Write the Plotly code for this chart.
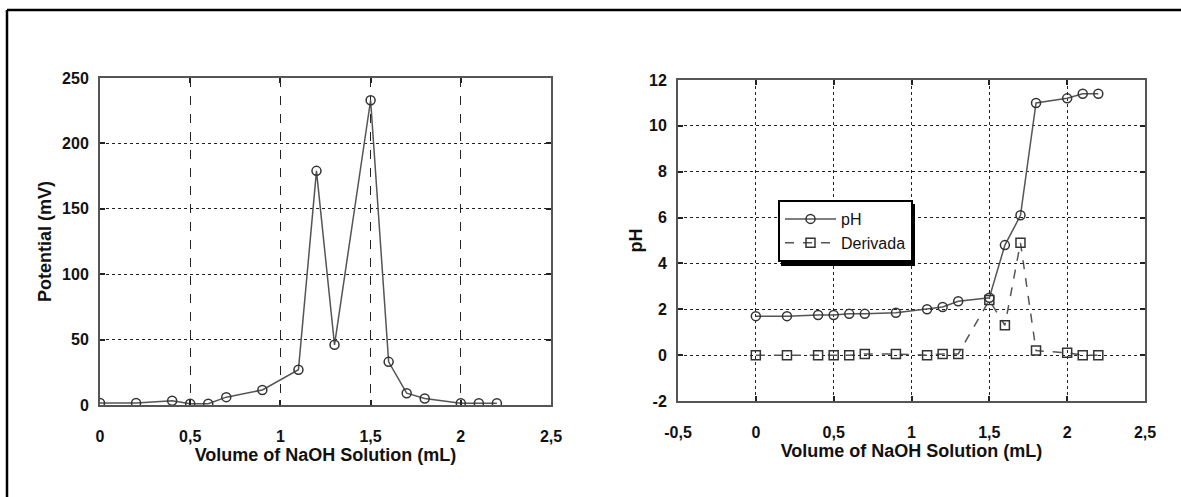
import plotly.graph_objects as go

W, H = 1181, 497

# ---- data ----
vol = [0, 0.2, 0.4, 0.5, 0.6, 0.7, 0.9, 1.1, 1.2, 1.3, 1.5, 1.6, 1.7, 1.8, 2.0, 2.1, 2.2]
potential = [1.5, 1.5, 3.3, 1, 1, 6, 11.5, 27, 179, 46, 233, 33, 9, 5, 1.3, 1.3, 1.3]

ph_vol = [0, 0.2, 0.4, 0.5, 0.6, 0.7, 0.9, 1.1, 1.2, 1.3, 1.5, 1.6, 1.7, 1.8, 2.0, 2.1, 2.2]
ph = [1.7, 1.7, 1.75, 1.75, 1.8, 1.8, 1.85, 2.0, 2.1, 2.35, 2.5, 4.8, 6.1, 11.0, 11.2, 11.4, 11.4]

der_vol = [0, 0.2, 0.4, 0.5, 0.6, 0.7, 0.9, 1.1, 1.2, 1.3, 1.5, 1.6, 1.7, 1.8, 2.0, 2.1, 2.2]
deriv = [0, 0, 0, 0, 0, 0.05, 0.05, 0, 0.05, 0.05, 2.4, 1.3, 4.9, 0.2, 0.1, 0, 0]

# tick labels (hyphen minus, comma decimal as in the original)
right_x_tickvals = [-0.5, 0, 0.5, 1, 1.5, 2, 2.5]
right_x_ticktext = ["-0,5", "0", "0,5", "1", "1,5", "2", "2,5"]
right_y_tickvals = [-2, 0, 2, 4, 6, 8, 10, 12]
right_y_ticktext = ["-2", "0", "2", "4", "6", "8", "10", "12"]

x_title = "Volume of NaOH Solution (mL)"
left_y_title = "Potential (mV)"
right_y_title = "pH"

FONT = "Liberation Sans, Arial, sans-serif"
LINE = "#555555"
MARK = "#333333"


def px_x(p):
    return p / W


def px_y(p):
    return (H - p) / H


fig = go.Figure()

fig.add_trace(go.Scatter(
    x=vol, y=potential, mode="lines+markers", showlegend=False,
    line=dict(color=LINE, width=1.5),
    marker=dict(symbol="circle-open", size=9, color=MARK, line=dict(width=1.5)),
    xaxis="x", yaxis="y"))

fig.add_trace(go.Scatter(
    x=ph_vol, y=ph, mode="lines+markers", name="pH",
    line=dict(color=LINE, width=1.5),
    marker=dict(symbol="circle-open", size=9, color=MARK, line=dict(width=1.5)),
    xaxis="x2", yaxis="y2"))

fig.add_trace(go.Scatter(
    x=der_vol, y=deriv, mode="lines+markers", name="Derivada",
    line=dict(color=LINE, width=1.5, dash="dash"),
    marker=dict(symbol="square-open", size=9, color=MARK, line=dict(width=1.5)),
    xaxis="x2", yaxis="y2"))

axis_common = dict(
    automargin=False,
    showline=True, linecolor="#555555", linewidth=2, mirror="ticks",
    ticks="inside", ticklen=5, tickwidth=2, tickcolor="#222222",
    showgrid=True, gridcolor="#222222", gridwidth=1, griddash="dot",
    zeroline=False,
    tickfont=dict(family=FONT, size=16, color="#111111", weight="bold"),
)

tfont = dict(family=FONT, size=18, color="#111111", weight="bold")

fig.update_layout(
    width=W, height=H,
    margin=dict(l=0, r=0, t=0, b=0, pad=0, autoexpand=False),
    paper_bgcolor="white", plot_bgcolor="white",
    separators=", ",
    xaxis=dict(axis_common, domain=[px_x(100), px_x(551)], range=[0, 2.5], dtick=0.5,
               tick0=0, anchor="y", ticklabelstandoff=16, griddash="dash",
               title=dict(text=x_title, font=tfont, standoff=4)),
    yaxis=dict(axis_common, domain=[px_y(405), px_y(78)], range=[0, 250], dtick=50,
               anchor="x", ticklabelstandoff=6,
               title=dict(text=left_y_title, font=tfont, standoff=6)),
    xaxis2=dict(axis_common, domain=[px_x(678), px_x(1145)], range=[-0.5, 2.5],
                tickmode="array", tickvals=right_x_tickvals, ticktext=right_x_ticktext,
                anchor="y2", ticklabelstandoff=16,
                title=dict(text=x_title, font=tfont, standoff=4)),
    yaxis2=dict(axis_common, domain=[px_y(401), px_y(80)], range=[-2, 12],
                tickmode="array", tickvals=right_y_tickvals, ticktext=right_y_ticktext,
                anchor="x2", ticklabelstandoff=6,
                title=dict(text=right_y_title, font=tfont, standoff=2)),
    legend=dict(x=px_x(778), y=px_y(200), xanchor="left", yanchor="top",
                bgcolor="white", bordercolor="black", borderwidth=2,
                font=dict(family=FONT, size=16, color="#111111"),
                tracegroupgap=0, itemwidth=51),
    shapes=[
        # outer frame (top and left edges)
        dict(type="line", xref="paper", yref="paper", x0=px_x(7), x1=1.0,
             y0=px_y(10), y1=px_y(10), line=dict(color="black", width=2.5)),
        dict(type="line", xref="paper", yref="paper", x0=px_x(7), x1=px_x(7),
             y0=px_y(10), y1=0, line=dict(color="black", width=2.5)),
        # legend drop shadow
        dict(type="rect", xref="paper", yref="paper", x0=px_x(781), x1=px_x(915),
             y0=px_y(266), y1=px_y(261), fillcolor="black", line=dict(width=0),
             layer="above"),
        dict(type="rect", xref="paper", yref="paper", x0=px_x(912), x1=px_x(915),
             y0=px_y(266), y1=px_y(204), fillcolor="black", line=dict(width=0),
             layer="above"),
    ],
)

fig.write_html("out.html", config={"displayModeBar": False},
               post_script="document.body.style.margin='0';")
